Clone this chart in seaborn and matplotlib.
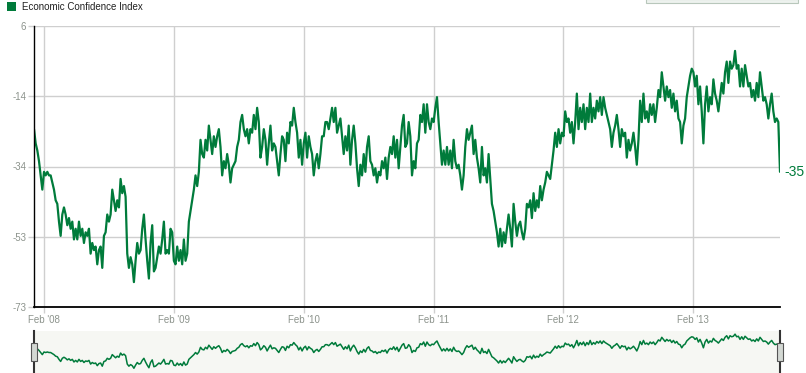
import pandas as pd
import seaborn as sns
import matplotlib.pyplot as plt
from matplotlib.patches import Rectangle

# Gallup Economic Confidence Index, every 4-5 days
start_date = "2008-01-03"
end_date = "2013-10-03"

confidence_2008_09 = [
    -23, -27, -29, -32, -36, -40, -35, -36, -35, -36, -36, -38, -40, -43, -44, -49,
    -53, -47, -45, -47, -50, -48, -51, -49, -54, -51, -54, -49, -53, -51, -55, -52,
    -53, -51, -58, -55, -57, -56, -61, -57, -56, -62, -53, -52, -47, -49, -47, -40,
    -43, -46, -43, -45, -37, -41, -39, -42, -58, -62, -59, -61, -66, -60, -55, -58,
    -57, -51, -47, -54, -60, -65, -55, -50, -63, -62, -59, -56, -58, -54, -49, -58,
    -57, -58, -51, -52, -60, -61, -56, -60, -57, -61, -54, -60, -58, -49, -46, -43,
    -40, -36, -39, -35, -26, -30, -31, -26, -29, -22, -26, -30, -25, -28, -25, -23,
    -28, -36, -32, -34, -30, -33, -38, -34, -33, -32, -28, -26, -21, -19, -23, -25,
    -23, -27, -23, -24, -19, -23, -17, -21, -31, -28, -23, -26, -33, -27, -22, -29,
    -27, -28, -32, -36,
]
confidence_2010_11 = [
    -30, -25, -26, -32, -24, -27, -21, -22, -17, -21, -24, -31, -26, -33, -27, -24,
    -31, -25, -28, -30, -36, -32, -30, -34, -30, -25, -25, -21, -21, -23, -20, -17,
    -21, -17, -24, -22, -20, -25, -30, -25, -29, -22, -33, -26, -22, -27, -34, -39,
    -33, -36, -30, -35, -28, -25, -32, -33, -36, -34, -38, -35, -36, -32, -34, -31,
    -37, -31, -28, -30, -25, -31, -26, -34, -28, -22, -19, -28, -27, -21, -25, -36,
    -32, -34, -27, -26, -19, -21, -16, -24, -16, -21, -23, -20, -21, -17, -14, -21,
    -27, -33, -29, -33, -28, -33, -29, -34, -26, -32, -34, -33, -36, -40, -36, -28,
    -23, -26, -24, -22, -30, -26, -31, -34, -38, -28, -36, -34, -38, -30, -37, -44,
    -46, -49, -52, -56, -51, -56, -52, -55, -51, -47, -51, -56, -44, -49, -53, -50,
    -49, -52, -54, -51, -44, -45, -43, -48, -41, -46, -43, -45, -39, -43, -40, -38,
    -35, -36,
]
confidence_2012_13 = [
    -37, -33, -29, -24, -28, -23, -27, -24, -25, -18, -21, -20, -24, -21, -27, -21,
    -13, -23, -17, -21, -16, -23, -17, -21, -13, -21, -17, -20, -15, -18, -14, -19,
    -14, -17, -19, -21, -23, -28, -24, -22, -19, -23, -28, -23, -25, -24, -31, -26,
    -29, -27, -24, -28, -33, -26, -15, -21, -13, -20, -18, -21, -16, -19, -16, -21,
    -17, -12, -14, -7, -11, -15, -11, -14, -12, -17, -13, -18, -15, -20, -21, -27,
    -22, -20, -14, -11, -8, -6, -7, -11, -8, -16, -11, -18, -27, -16, -11, -18,
    -14, -16, -9, -13, -15, -18, -14, -10, -13, -7, -4, -10, -4, -6, -5, -1,
    -6, -5, -11, -6, -11, -5, -8, -11, -10, -14, -12, -15, -10, -14, -7, -11,
    -15, -14, -16, -20, -16, -13, -18, -21, -20, -21, -35,
]

y_tick_values = [6, -13.75, -33.5, -53.25, -73]
y_tick_labels = ["6", "-14", "-34", "-53", "-73"]
x_tick_dates = ["2008-02-01", "2009-02-01", "2010-02-01", "2011-02-01", "2012-02-01", "2013-02-01"]
x_tick_labels = ["Feb '08", "Feb '09", "Feb '10", "Feb '11", "Feb '12", "Feb '13"]
series_name = "Economic Confidence Index"

GREEN = "#007b3b"
GRID = "#cfcfcf"
TICK_TEXT = "#8c938c"

values = confidence_2008_09 + confidence_2010_11 + confidence_2012_13
df = pd.DataFrame({
    "date": pd.date_range(start_date, end_date, periods=len(values)),
    "index": values,
})

sns.set_theme(style="white")
plt.rcParams["font.family"] = ["Liberation Sans", "DejaVu Sans"]

W, H = 806, 373
fig = plt.figure(figsize=(W / 100, H / 100), dpi=100)

# main panel
ax = fig.add_axes([34 / W, 1 - 307 / H, 746 / W, 281 / H])
sns.lineplot(data=df, x="date", y="index", ax=ax, color=GREEN, linewidth=1.6)
ax.set_xlim(df["date"].iloc[0], df["date"].iloc[-1])
ax.set_ylim(-73, 6)
ax.set_yticks(y_tick_values)
ax.set_yticklabels(y_tick_labels)
ax.set_xticks(pd.to_datetime(x_tick_dates))
ax.set_xticklabels(x_tick_labels)
ax.set_xlabel("")
ax.set_ylabel("")
ax.grid(True, color=GRID, linewidth=1.0)
ax.set_axisbelow(True)
for side in ["top", "right"]:
    ax.spines[side].set_visible(False)
ax.spines["left"].set_color("black")
ax.spines["left"].set_linewidth(1.0)
ax.spines["bottom"].set_color("black")
ax.spines["bottom"].set_linewidth(1.3)
ax.tick_params(axis="both", length=4, width=1, color=GRID, labelsize=7,
               labelcolor=TICK_TEXT, left=True, bottom=True)
ax.tick_params(axis="y", pad=1.5)
ax.tick_params(axis="x", pad=2)

last = df.iloc[-1]
ax.annotate(f"{last['index']}", xy=(last["date"], last["index"]), xytext=(3, 0),
            textcoords="offset points", va="center", ha="left", color=GREEN,
            fontsize=10, annotation_clip=False)

# navigator strip
nav = fig.add_axes([34 / W, 0, 746 / W, 42 / H])
nav.set_facecolor("#f6f7f3")
sns.lineplot(data=df, x="date", y="index", ax=nav, color=GREEN, linewidth=1.1)
nav.set_xlim(df["date"].iloc[0], df["date"].iloc[-1])
nav.set_ylim(-75, 5)
nav.set_xticks([])
nav.set_yticks([])
nav.set_xlabel("")
nav.set_ylabel("")
for side in ["top", "bottom"]:
    nav.spines[side].set_visible(False)
for side in ["left", "right"]:
    nav.spines[side].set_color("#333333")
    nav.spines[side].set_linewidth(1.5)
for xpos in [0, 1]:
    nav.add_patch(Rectangle((xpos - 3 / 746, 0.28), 6 / 746, 0.43, transform=nav.transAxes,
                            facecolor="#d3d8d3", edgecolor="#555555", linewidth=0.8,
                            clip_on=False, zorder=5))

# legend swatch and title
fig.patches.append(Rectangle((7 / W, 1 - 11 / H), 9 / W, 9 / H, transform=fig.transFigure,
                             facecolor=GREEN, edgecolor="none"))
fig.text(22 / W, 1 - 6.5 / H, series_name, fontsize=7, color="#222222", va="center", ha="left")

# edge of the range selector box at the top right
fig.patches.append(Rectangle((646 / W, 1 - 3 / H), 152 / W, 4 / H, transform=fig.transFigure,
                             facecolor="#edf2ee", edgecolor="#b8c7bb", linewidth=0.8))

fig.savefig("out.png", dpi=100)
